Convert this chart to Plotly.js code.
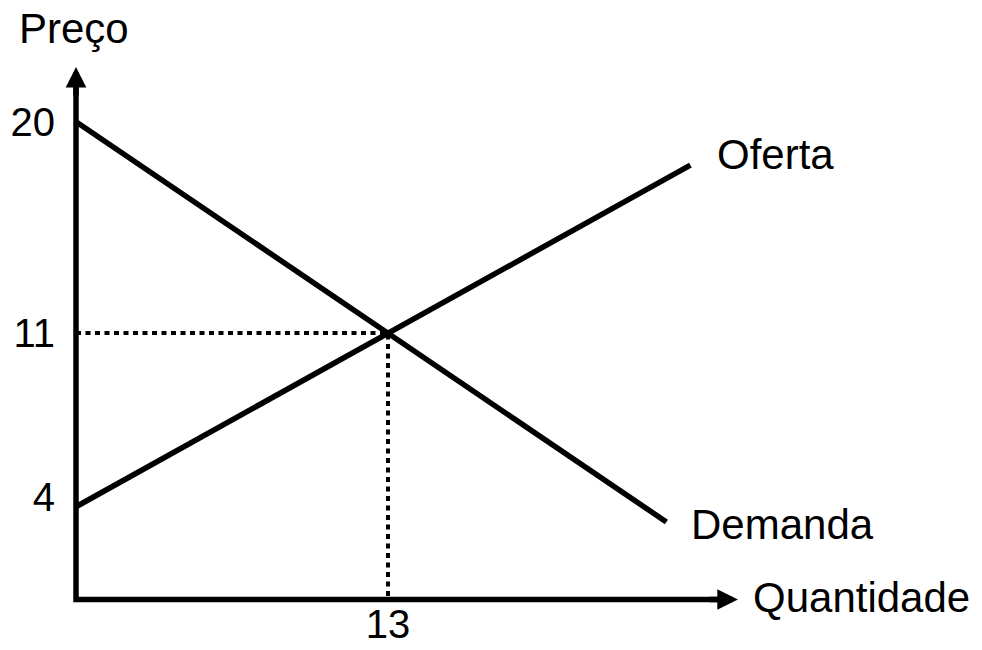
<!DOCTYPE html>
<html><head><meta charset="utf-8">
<script src="https://cdn.plot.ly/plotly-3.0.1.min.js"></script>
<style>html,body{margin:0;padding:0;background:#fff}#chart{width:982px;height:650px}</style>
</head><body><div id="chart"></div>
<script>
// Curves (Quantidade, Preço)
const demandQ = [0, 13, 24.6];
const demandP = [20, 11, 2.95];
const supplyQ = [0, 13, 25.6];
const supplyP = [3.6, 11, 18.15];
// Equilibrium guide lines
const guideQ = [0, 13, 13];
const guideP = [11, 11, -0.35];
// Axis frame (L shape) and arrow tips
const axisQ = [27, 0, 0];
const axisP = [-0.35, -0.35, 21.8];
const xArrowTip = [27.58, -0.35];
const yArrowTip = [0, 22.33];
// Tick labels
const yTicks = [4, 11, 20];
const yTickText = ['4', '11', '20'];
const xTicks = [13];
const xTickText = ['13'];
// Text labels
const curveLabelText = ['Oferta', 'Demanda'];
const curveLabelQ = [26.63, 25.54];
const curveLabelP = [18.62, 2.86];
const xTitle = 'Quantidade';
const yTitle = 'Preço';

const FONT = 'Liberation Sans, Arial, Helvetica, sans-serif';
const LW = 5.5;
const LABEL_SIZE = 42;

const traces = [
  {x: axisQ, y: axisP, mode: 'lines', line: {color: '#000', width: LW}, hoverinfo: 'skip'},
  {x: guideQ, y: guideP, mode: 'lines', line: {color: '#000', width: 4, dash: '5px,4.5px'}, hoverinfo: 'skip'},
  {x: demandQ, y: demandP, mode: 'lines', line: {color: '#000', width: LW}, hoverinfo: 'skip'},
  {x: supplyQ, y: supplyP, mode: 'lines', line: {color: '#000', width: LW}, hoverinfo: 'skip'}
];

const annotations = [
  {x: xArrowTip[0], y: xArrowTip[1], ax: -30, ay: 0, text: '', showarrow: true, arrowhead: 2, arrowwidth: LW, arrowsize: 0.75, arrowcolor: '#000'},
  {x: yArrowTip[0], y: yArrowTip[1], ax: 0, ay: 30, text: '', showarrow: true, arrowhead: 2, arrowwidth: LW, arrowsize: 0.75, arrowcolor: '#000'},
  {xref: 'paper', yref: 'paper', x: 1.0044, y: 0.0093, text: xTitle, showarrow: false, xanchor: 'left', yanchor: 'middle', font: {family: FONT, size: LABEL_SIZE, color: '#000'}},
  {xref: 'paper', yref: 'paper', x: -0.0687, y: 1.0648, text: yTitle, showarrow: false, xanchor: 'left', yanchor: 'middle', font: {family: FONT, size: LABEL_SIZE, color: '#000'}}
];
curveLabelText.forEach((t, i) => {
  annotations.push({x: curveLabelQ[i], y: curveLabelP[i], text: t, showarrow: false, xanchor: 'left', yanchor: 'middle', font: {family: FONT, size: LABEL_SIZE, color: '#000'}});
});

const layout = {
  width: 982, height: 650,
  margin: {l: 64, r: 234, t: 63, b: 47, pad: 0},
  paper_bgcolor: '#fff', plot_bgcolor: '#fff',
  showlegend: false,
  font: {family: FONT, size: 40, color: '#000'},
  xaxis: {range: [-0.5, 28], showgrid: false, zeroline: false, showline: false, ticks: '',
          tickvals: xTicks, ticktext: xTickText, ticklabelstandoff: -6, fixedrange: true},
  yaxis: {range: [-0.5, 22.5], showgrid: false, zeroline: false, showline: false, ticks: '',
          tickvals: yTicks, ticktext: yTickText, ticklabelstandoff: 8, fixedrange: true},
  annotations: annotations
};

Plotly.newPlot('chart', traces, layout, {displayModeBar: false, staticPlot: true});
</script>
</body></html>
